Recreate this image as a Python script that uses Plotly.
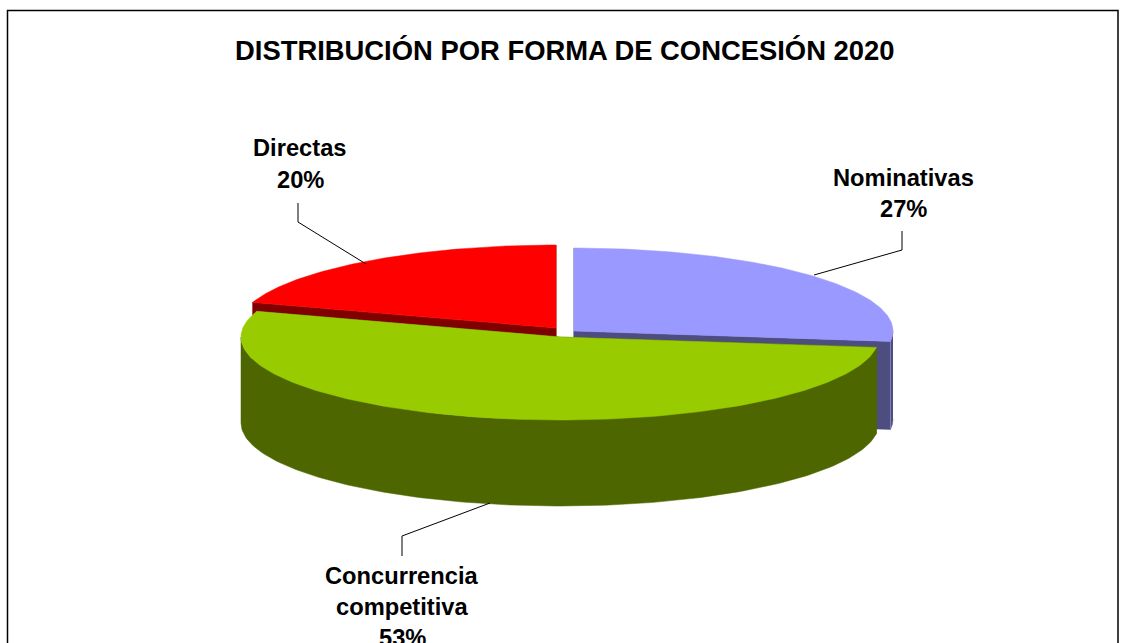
import numpy as np
import plotly.graph_objects as go

# Data
categories = ["Nominativas", "Concurrencia competitiva", "Directas"]
values = [27, 53, 20]
label_lines = [["Nominativas", "27%"], ["Concurrencia", "competitiva", "53%"], ["Directas", "20%"]]
title_text = "DISTRIBUCIÓN POR FORMA DE CONCESIÓN 2020"

# Styles / layout of the projected pie (pixel space)
top_colors = ["#9999ff", "#99cc00", "#ff0000"]
side_colors = ["#4d4d80", "#4d6600", "#800000"]
edge_colors = ["#8080b8", "#4d6600", "#800000"]
centers = [(574, 331), (560, 337), (556, 328)]
depths = [88, 86, 86]
label_pos = [(903, [178, 209]), (402, [576, 607, 638]), (300, [148, 180])]
leaders = [([814, 902, 902], [275, 250, 231]),
           ([490, 402, 402], [503, 536, 556]),
           ([366, 298, 298], [264, 222, 203])]
RX, RY = 319, 83
FONT = "Liberation Sans, Arial, sans-serif"


def arc(cx, cy, a0, a1, n=160):
    t = np.radians(np.linspace(a0, a1, n))
    return cx + RX * np.sin(t), cy - RY * np.cos(t)


fig = go.Figure()
shares = np.array(values, dtype=float) / sum(values) * 360
starts = np.concatenate([[0], np.cumsum(shares)[:-1]])
draw_order = [2, 0, 1]
for i in draw_order:
    a0, a1 = starts[i], starts[i] + shares[i]
    cx, cy = centers[i]
    d = depths[i]
    x, y = arc(cx, cy, a0, a1)
    polys = []
    # cut faces
    for ang_x, ang_y in ((x[0], y[0]), (x[-1], y[-1])):
        polys.append(([cx, ang_x, ang_x, cx, cx], [cy, ang_y, ang_y + d, cy + d, cy]))
    # outer rim (front half only)
    lo, hi = max(a0, 90), min(a1, 270)
    if hi > lo:
        rx, ry = arc(cx, cy, lo, hi)
        polys.append((list(rx) + list(rx[::-1]), list(ry) + list(ry[::-1] + d)))
    for px, py in polys:
        fig.add_trace(go.Scatter(x=px, y=py, mode="lines", fill="toself", fillcolor=side_colors[i],
                                 line=dict(width=0.5, color=side_colors[i]), hoverinfo="skip", showlegend=False))
    # lit corner where the cut face meets the rim
    if edge_colors[i] != side_colors[i]:
        fig.add_trace(go.Scatter(x=[x[-1], x[-1]], y=[y[-1], y[-1] + d], mode="lines",
                                 line=dict(width=1, color=edge_colors[i]), hoverinfo="skip", showlegend=False))
    fig.add_trace(go.Scatter(x=[cx] + list(x) + [cx], y=[cy] + list(y) + [cy], mode="lines", fill="toself",
                             fillcolor=top_colors[i], line=dict(width=0.5, color=top_colors[i]),
                             name=categories[i], text=f"{categories[i]}: {values[i]}%", hoverinfo="text",
                             showlegend=False))

for lx, ly in leaders:
    fig.add_trace(go.Scatter(x=lx, y=ly, mode="lines", line=dict(color="black", width=1),
                             hoverinfo="skip", showlegend=False))

annotations = [dict(x=564.5, y=50, text=f"<b>{title_text}</b>", showarrow=False, xref="x", yref="y",
                    font=dict(family=FONT, size=27.4, color="black"))]
for lines, (lx, lys) in zip(label_lines, label_pos):
    for line, ly in zip(lines, lys):
        annotations.append(dict(x=lx, y=ly, text=f"<b>{line}</b>", showarrow=False, xref="x", yref="y",
                                font=dict(family=FONT, size=23.7, color="black")))

fig.update_layout(
    width=1121, height=643, margin=dict(l=0, r=0, t=0, b=0),
    paper_bgcolor="white", plot_bgcolor="white", showlegend=False,
    xaxis=dict(range=[0, 1121], visible=False, fixedrange=True),
    yaxis=dict(range=[643, 0], visible=False, fixedrange=True),
    annotations=annotations,
    shapes=[dict(type="rect", xref="x", yref="y", x0=7.5, y0=10.5, x1=1118, y1=720,
                 line=dict(color="black", width=1.5), layer="below")],
)
fig.write_html("out.html", config={"displayModeBar": False},
               post_script="document.body.style.margin='0';document.body.style.overflow='hidden';")
